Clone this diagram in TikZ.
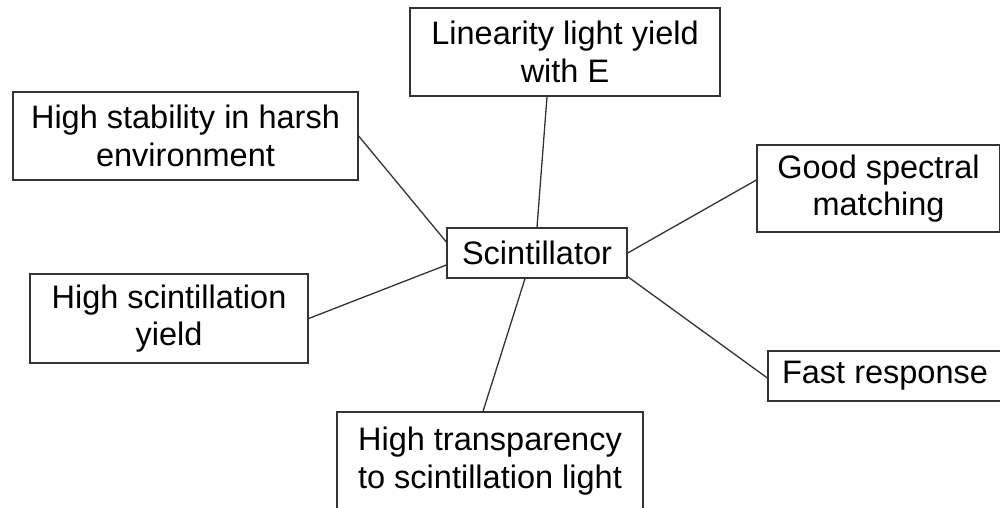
\documentclass[tikz,border=0pt]{standalone}
\usepackage{fontspec}
\setmainfont{Liberation Sans}
\tikzset{
  box/.style={draw=black!80, line width=1.3pt, rectangle, inner sep=0pt, align=center,
    font=\fontsize{32.5}{37.5}\selectfont, text=black},
  link/.style={draw=black!80, line width=1.3pt}
}
\begin{document}
\begin{tikzpicture}[x=1pt,y=-1pt]
\useasboundingbox (0,0) rectangle (1000,508);
\node[box, minimum width=180pt, minimum height=50pt] (sc) at (537,253) {Scintillator};
\node[box, minimum width=310pt, minimum height=88pt] (lin) at (565,52) {Linearity light yield\\with E};
\node[box, minimum width=345pt, minimum height=88pt] (stab) at (185.5,136) {High stability in harsh\\environment};
\node[box, minimum width=243pt, minimum height=87pt] (spec) at (878.5,188.5) {Good spectral\\matching};
\node[box, minimum width=278pt, minimum height=89pt] (yield) at (169,318.5) {High scintillation\\yield};
\node[box, minimum width=234pt, minimum height=50pt] (fast) at (885,376) {Fast response};
\node[box, minimum width=306pt, minimum height=98pt] (trans) at (490,461) {High transparency\\to scintillation light};
\draw[link] (stab.east) -- ([yshift=11pt]sc.west);
\draw[link] (yield.east) -- ([yshift=-12pt]sc.west);
\draw[link] ([xshift=-18pt]lin.south) -- (sc.north);
\draw[link] ([yshift=8.5pt]spec.west) -- (sc.east);
\draw[link] ([yshift=-2pt]fast.west) -- ([yshift=2pt]sc.south east);
\draw[link] ([xshift=-7pt]trans.north) -- ([xshift=-12pt]sc.south);
\end{tikzpicture}
\end{document}
